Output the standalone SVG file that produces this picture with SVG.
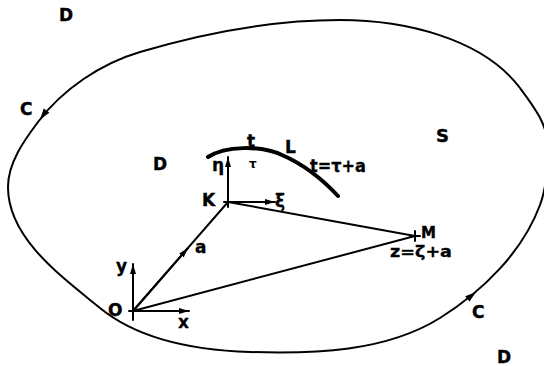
<svg xmlns="http://www.w3.org/2000/svg" width="544" height="366" viewBox="0 0 544 366">
<defs>
<style>
.ln{fill:none;stroke:#000;stroke-width:2;stroke-linecap:round}
.cap{font-family:"DejaVu Sans","Liberation Sans",sans-serif;font-weight:bold;font-size:17px;fill:#000;stroke:#000;stroke-width:0.4}
.low{font-family:"DejaVu Sans","Liberation Sans",sans-serif;font-weight:bold;font-size:17px;fill:#000;stroke:#000;stroke-width:0.3}
.sm{font-family:"DejaVu Sans","Liberation Sans",sans-serif;font-weight:bold;font-size:12px;fill:#000}
</style>
<marker id="ah" viewBox="0 0 10 6" refX="10" refY="3" markerWidth="10" markerHeight="6" markerUnits="userSpaceOnUse" orient="auto">
<path d="M0,0 L10,3 L0,6 Z" fill="#000"/>
</marker>
</defs>
<rect width="544" height="366" fill="#fff"/>

<g id="boundary">
<path class="ln" stroke-width="2.2" d="M340 20 C273 20 204 33 140 52 C101 63.5 62.6 89.2 38 122 C23.6 141.2 8 163 8 187 C8 238 60.7 275.9 100 308 C140 340.8 198 350.4 250 352 C314 354 385.6 351.9 440 318 C482.5 291.5 522.5 252 540 205 C546.8 186.7 548 166.5 548 147 C548 125 533.2 105.6 520 88 C482.2 37.6 403 20 340 20 Z"/>
<polygon points="40,119.5 49.4,112.8 43.8,108.6" fill="#000"/>
<polygon points="476,292 469.6,301.6 465.2,296.2" fill="#000"/>
</g>

<g id="curveL">
<path d="M208 157 C225 146 260 145 282 155 C305 165 325 182 338 196" fill="none" stroke="#000" stroke-width="4" stroke-linecap="round"/>
</g>

<g id="connectors">
<line class="ln" x1="133" y1="311" x2="228" y2="202"/>
<line class="ln" x1="133" y1="311" x2="188" y2="248" marker-end="url(#ah)"/>
<line class="ln" x1="133" y1="311" x2="415" y2="236"/>
<line class="ln" x1="228" y1="202" x2="415" y2="236"/>
</g>

<g id="pointO">
<line class="ln" x1="133" y1="320" x2="133" y2="264" marker-end="url(#ah)"/>
<line class="ln" x1="129" y1="311" x2="189" y2="311" marker-end="url(#ah)"/>
</g>

<g id="pointK">
<line class="ln" x1="228" y1="207" x2="228" y2="157" marker-end="url(#ah)"/>
<line class="ln" x1="224" y1="202" x2="275" y2="202" marker-end="url(#ah)"/>
</g>

<g id="pointM">
<line class="ln" x1="415" y1="231" x2="415" y2="241"/>
<line class="ln" x1="410" y1="236" x2="420" y2="236"/>
</g>

<g id="labels">
<text class="cap" x="59" y="21">D</text>
<text class="cap" x="20" y="115">C</text>
<text class="cap" x="153" y="170">D</text>
<text class="cap" x="436" y="142" style="font-size:18px">S</text>
<text class="low" x="247" y="147">t</text>
<text class="cap" x="285" y="153">L</text>
<text class="low" x="310" y="172" textLength="56" lengthAdjust="spacingAndGlyphs">t=τ+a</text>
<text class="low" x="212" y="171">η</text>
<text class="sm" x="249" y="168">τ</text>
<text class="cap" x="202" y="206">K</text>
<text class="low" x="275" y="207">ξ</text>
<text class="low" x="195" y="253">a</text>
<text class="cap" x="421" y="238" style="font-size:15px">M</text>
<text class="low" x="390" y="257" textLength="62" lengthAdjust="spacingAndGlyphs" style="font-size:15px">z=ζ+a</text>
<text class="low" x="116" y="272">y</text>
<text class="cap" x="108" y="316">O</text>
<text class="low" x="178" y="328">x</text>
<text class="cap" x="472" y="318">C</text>
<text class="cap" x="497" y="363">D</text>
</g>
</svg>
